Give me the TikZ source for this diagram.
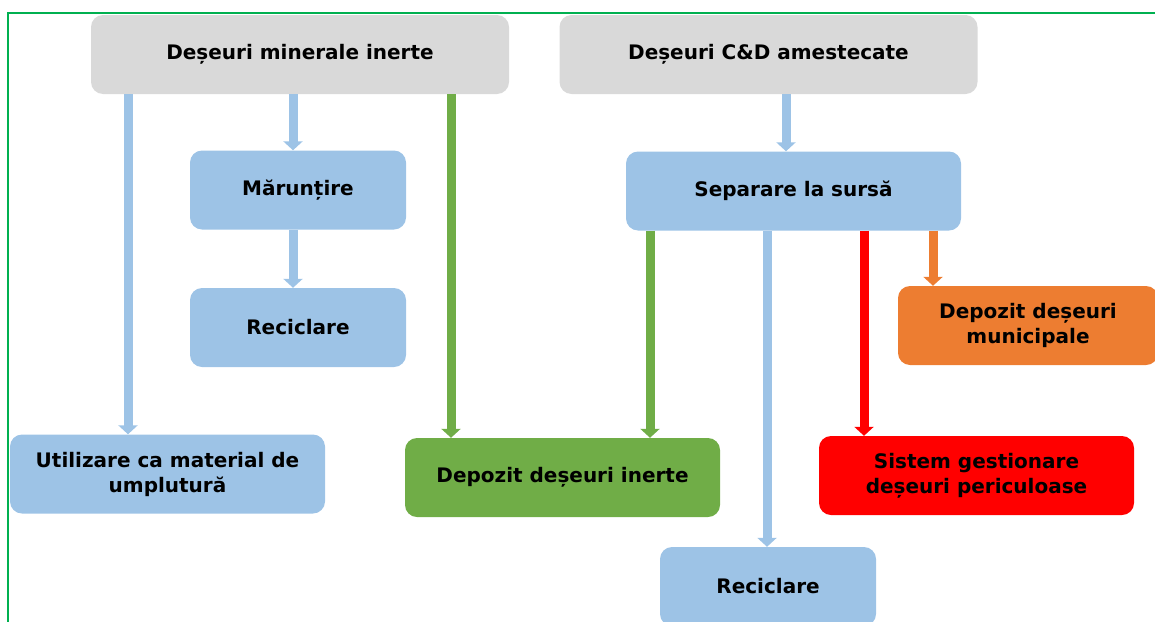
\documentclass[tikz,border=0pt]{standalone}
\usepackage{fontspec}
\setmainfont{DejaVu Sans}
\usetikzlibrary{arrows.meta, positioning}
\definecolor{boxgray}{HTML}{D9D9D9}
\definecolor{boxblue}{HTML}{9DC3E6}
\definecolor{boxgreen}{HTML}{70AD47}
\definecolor{boxorange}{HTML}{ED7D31}
\definecolor{boxred}{HTML}{FF0000}
\definecolor{framegreen}{HTML}{00B050}

\begin{document}
\begin{tikzpicture}[x=1pt, y=-1pt]
\tikzset{box/.style={rectangle, rounded corners=12pt, align=center, text=black, minimum height=79pt, inner sep=2pt,
			font=\bfseries\fontsize{20}{25}\selectfont},
		source/.style={box, fill=boxgray, minimum width=418pt},
		bluebox/.style={box, fill=boxblue},
		greenbox/.style={box, fill=boxgreen},
		orangebox/.style={box, fill=boxorange},
		redbox/.style={box, fill=boxred},
		arr/.style={line width=9pt, -{Triangle[width=19pt, length=9pt]}}}
\useasboundingbox (0,0) rectangle (1155,621);
\clip (0,0) rectangle (1155,621);
\draw[framegreen, line width=2pt] (8,13) rectangle (1180,650);
\node[source] (DMI) at (300,54.5) {Deșeuri minerale inerte};
\node[source] (DCD) at (768.5,54.5) {Deșeuri C\&D amestecate};
\node[bluebox, minimum width=216pt] (MR) at (298,190) {Mărunțire};
\node[bluebox, minimum width=216pt] (RL) at (298,327.5) {Reciclare};
\node[bluebox, minimum width=315pt] (UM) at (167.5,474) {Utilizare ca material de\\umplutură};
\node[greenbox, minimum width=315pt] (DI) at (562.5,477.5) {Depozit deșeuri inerte};
\node[bluebox, minimum width=335pt] (SS) at (793.5,191) {Separare la sursă};
\node[orangebox, minimum width=260pt] (DM) at (1028,325.5) {Depozit deșeuri\\municipale};
\node[redbox, minimum width=315pt] (SG) at (976.5,475.5) {Sistem gestionare\\deșeuri periculoase};
\node[bluebox, minimum width=216pt] (RB) at (768,586.5) {Reciclare};
\draw[arr, boxblue] (DMI.south -| 128,0) -- (UM.north -| 128,0);
\draw[arr, boxblue] (DMI.south -| 293,0) -- (MR.north -| 293,0);
\draw[arr, boxblue] (MR.south -| 293,0) -- (RL.north -| 293,0);
\draw[arr, boxgreen] (DMI.south -| 451,0) -- (DI.north -| 451,0);
\draw[arr, boxblue] (DCD.south -| 786,0) -- (SS.north -| 786,0);
\draw[arr, boxgreen] (SS.south -| 650,0) -- (DI.north -| 650,0);
\draw[arr, boxblue] (SS.south -| 767,0) -- (RB.north -| 767,0);
\draw[arr, boxred] (SS.south -| 864,0) -- (SG.north -| 864,0);
\draw[arr, boxorange] (SS.south -| 933,0) -- (DM.north -| 933,0);
\end{tikzpicture}
\end{document}
